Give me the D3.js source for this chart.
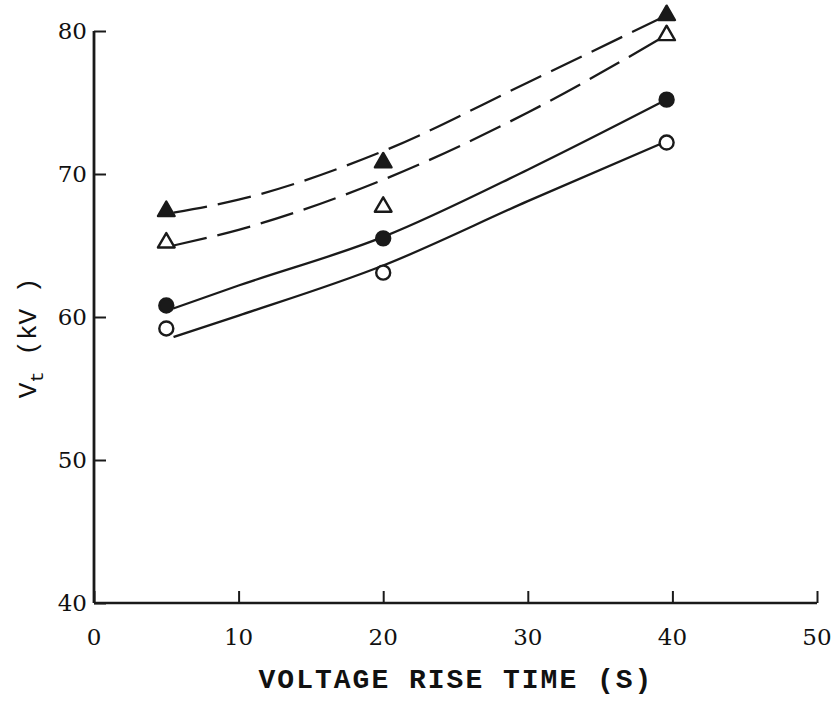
<!DOCTYPE html>
<html>
<head>
<meta charset="utf-8">
<script src="https://cdn.jsdelivr.net/npm/d3@7"></script>
<style>
  body { margin: 0; background: #fff; }
  .tick-label { font-family: 'DejaVu Serif', serif; font-size: 23px; fill: #111; }
  .title { font-family: 'Liberation Mono', 'Courier New', monospace; fill: #111; font-weight: bold; }
</style>
</head>
<body>
<div id="chart"></div>
<script>
// measured points (rise time in s, breakdown voltage in kV)
const riseTime = [5, 20, 39.6];
const filledTri = [67.4, 70.8, 81.1];
const openTri = [65.2, 67.7, 79.7];
const filledCirc = [60.8, 65.5, 75.2];
const openCirc = [59.2, 63.1, 72.2];

// hand-drawn fit curves
const fitTime = [5.5, 10, 20, 30, 39.4];
const fitFilledTri = [67.3, 68.2, 71.6, 76.4, 81.0];
const fitOpenTri = [65.0, 66.1, 69.6, 74.3, 79.6];
const fitFilledCirc = [60.6, 62.2, 65.6, 70.3, 75.1];
const fitOpenCirc = [58.6, 60.1, 63.6, 68.1, 72.2];

const xTicks = [0, 10, 20, 30, 40, 50];
const yTicks = [40, 50, 60, 70, 80];

const W = 832;
const H = 702;
const ink = '#1a1a1a';

const svg = d3.select('#chart').append('svg')
  .attr('width', W)
  .attr('height', H);

const x = d3.scaleLinear().domain([0, 50]).range([94, 817]);
const y = d3.scaleLinear().domain([40, 80]).range([603, 31]);

// axes (ticks point inward)
const xAxis = svg.append('g')
  .attr('transform', `translate(0,${y(40)})`)
  .call(d3.axisTop(x).tickValues(xTicks).tickSize(12).tickFormat(''));
xAxis.select('.domain').attr('d', `M${x(0)},0H${x(50)}`).attr('stroke', ink).attr('stroke-width', 2.5);
xAxis.selectAll('.tick line').attr('stroke', ink).attr('stroke-width', 2);

const yAxis = svg.append('g')
  .attr('transform', `translate(${x(0)},0)`)
  .call(d3.axisRight(y).tickValues(yTicks).tickSize(12).tickFormat(''));
yAxis.select('.domain').attr('d', `M0,${y(40)}V${y(80)}`).attr('stroke', ink).attr('stroke-width', 2.8);
yAxis.selectAll('.tick line').attr('stroke', ink).attr('stroke-width', 2);

svg.append('g').selectAll('text')
  .data(xTicks)
  .join('text')
  .attr('class', 'tick-label')
  .attr('x', d => x(d))
  .attr('y', 645)
  .attr('text-anchor', 'middle')
  .text(d => d);

svg.append('g').selectAll('text')
  .data(yTicks)
  .join('text')
  .attr('class', 'tick-label')
  .attr('x', 87)
  .attr('y', d => y(d) + 8)
  .attr('text-anchor', 'end')
  .text(d => d);

// fit curves
const line = d3.line()
  .x(d => x(d[0]))
  .y(d => y(d[1]))
  .curve(d3.curveMonotoneX);

const curves = [
  { vals: fitFilledTri, dash: '34,11' },
  { vals: fitOpenTri, dash: '34,11' },
  { vals: fitFilledCirc, dash: null },
  { vals: fitOpenCirc, dash: null },
];

svg.append('g').selectAll('path')
  .data(curves)
  .join('path')
  .attr('d', c => line(fitTime.map((t, i) => [t, c.vals[i]])))
  .attr('fill', 'none')
  .attr('stroke', ink)
  .attr('stroke-width', 2.3)
  .attr('stroke-dasharray', c => c.dash);

// markers
const tri = d3.symbol().type(d3.symbolTriangle).size(120);

const marks = [
  { vals: filledTri, shape: 'tri', fill: ink },
  { vals: openTri, shape: 'tri', fill: '#fff' },
  { vals: filledCirc, shape: 'circ', fill: ink },
  { vals: openCirc, shape: 'circ', fill: '#fff' },
];

marks.forEach((m) => {
  const g = svg.append('g');
  const pts = riseTime.map((t, i) => [t, m.vals[i]]);
  if (m.shape === 'tri') {
    g.selectAll('path')
      .data(pts)
      .join('path')
      .attr('d', tri)
      .attr('transform', d => `translate(${x(d[0])},${y(d[1])})`)
      .attr('fill', m.fill)
      .attr('stroke', ink)
      .attr('stroke-width', 2.4)
      .attr('stroke-linejoin', 'round');
  } else {
    g.selectAll('circle')
      .data(pts)
      .join('circle')
      .attr('cx', d => x(d[0]))
      .attr('cy', d => y(d[1]))
      .attr('r', 7)
      .attr('fill', m.fill)
      .attr('stroke', ink)
      .attr('stroke-width', 2.4);
  }
});

// axis titles
svg.append('text')
  .attr('class', 'title')
  .attr('x', 456)
  .attr('y', 688)
  .attr('text-anchor', 'middle')
  .style('font-size', '28px')
  .style('letter-spacing', '2px')
  .text('VOLTAGE RISE TIME (S)');

const yTitle = svg.append('text')
  .attr('class', 'title')
  .attr('transform', 'translate(36,338) rotate(-90)')
  .attr('text-anchor', 'middle')
  .style('font-size', '26px')
  .style('font-weight', 'normal');
yTitle.append('tspan').text('V');
yTitle.append('tspan').attr('dy', 7).style('font-size', '19px').text('t');
yTitle.append('tspan').attr('dy', -7).text(' (kV )');
</script>
</body>
</html>
